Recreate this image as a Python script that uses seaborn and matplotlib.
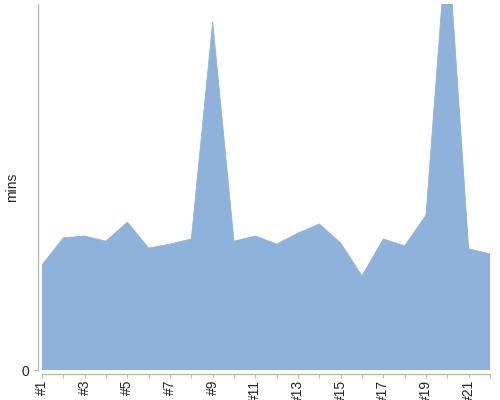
import matplotlib
matplotlib.use("Agg")
import matplotlib.pyplot as plt
import seaborn as sns
import pandas as pd

categories = [f"#{i}" for i in range(1, 23)]
mins = [28.7, 36.1, 36.6, 35.2, 40.4, 33.3, 34.4, 35.8, 95.1, 35.2, 36.6,
        34.4, 37.4, 39.9, 34.7, 25.7, 35.8, 33.9, 42.3, 120.0, 33.1, 31.7]
shown_labels = [c if i % 2 == 0 else "" for i, c in enumerate(categories)]

df = pd.DataFrame({"pos": range(1, len(categories) + 1), "mins": mins})

sns.set_style("white")
plt.rcParams["font.family"] = ["Liberation Sans", "DejaVu Sans"]

fig = plt.figure(figsize=(5, 4), dpi=100)
ax = fig.add_axes([0.084, 0.075, 0.896, 0.915])

ax.fill_between(df["pos"], 0, df["mins"], color="#8FB2DA", linewidth=0)
sns.lineplot(data=df, x="pos", y="mins", ax=ax, color="#8FB2DA", linewidth=0.6)

ax.set_xlim(1, 22)
ax.set_ylim(0, 100)
ax.set_xticks(df["pos"])
ax.set_xticklabels(shown_labels, fontsize=6.8, color="#222222")
ax.set_yticks([0])
ax.set_yticklabels(["0"], fontsize=8.5, color="#555555")
ax.set_xlabel("")
ax.set_ylabel("mins", fontsize=10, color="#222222")
ax.yaxis.set_label_coords(-0.051, 0.5)

for s in ["top", "right"]:
    ax.spines[s].set_visible(False)
ax.spines["left"].set_position(("outward", 3))
ax.spines["bottom"].set_position(("outward", 3))
ax.spines["bottom"].set_bounds(1, 22)
for s in ["left", "bottom"]:
    ax.spines[s].set_color("#BBBBBB")
    ax.spines[s].set_linewidth(1)
ax.tick_params(axis="x", bottom=True, length=3, color="#BBBBBB", pad=1)
ax.tick_params(axis="y", left=True, length=3, color="#BBBBBB", pad=3)
for lbl in ax.get_xticklabels():
    lbl.set_rotation(90)
    lbl.set_rotation_mode("default")
    lbl.set_verticalalignment("top")
    lbl.set_horizontalalignment("center")

fig.savefig("out.png", dpi=100)
